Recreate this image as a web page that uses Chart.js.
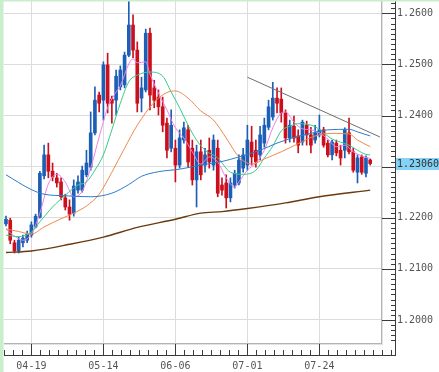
<!DOCTYPE html>
<html><head><meta charset="utf-8">
<script src="https://cdn.jsdelivr.net/npm/chart.js@4.4.1/dist/chart.umd.min.js"></script>
<style>html,body{margin:0;padding:0;background:#fff;overflow:hidden}canvas{display:block}</style>
</head><body>
<canvas id="c" width="439" height="372"></canvas>
<script>
// ---- data (daily candles, index 0..86) ----
const opens  = [1.2188,1.2195,1.2151,1.2135,1.2151,1.2156,1.2166,1.2182,1.2201,1.2282,
                1.2323,1.2291,1.2278,1.2270,1.2239,1.2221,1.2209,1.2254,1.2254,1.2284,
                1.2299,1.2366,1.2440,1.2430,1.2499,1.2432,1.2430,1.2456,1.2460,1.2518,
                1.2577,1.2528,1.2434,1.2450,1.2561,1.2454,1.2436,1.2417,1.2385,1.2336,
                1.2336,1.2303,1.2352,1.2372,1.2336,1.2274,1.2329,1.2303,1.2332,1.2303,
                1.2336,1.2264,1.2268,1.2239,1.2264,1.2268,1.2297,1.2303,1.2348,1.2332,
                1.2323,1.2346,1.2377,1.2397,1.2434,1.2432,1.2405,1.2356,1.2379,1.2360,
                1.2348,1.2381,1.2362,1.2352,1.2362,1.2372,1.2346,1.2323,1.2346,1.2332,
                1.2332,1.2366,1.2329,1.2289,1.2319,1.2287,1.2313];
const highs  = [1.2203,1.2199,1.2156,1.2162,1.2166,1.2174,1.2192,1.2207,1.2291,1.2342,
                1.2346,1.2307,1.2287,1.2278,1.2246,1.2235,1.2274,1.2282,1.2301,1.2332,
                1.2407,1.2456,1.2446,1.2505,1.2522,1.2438,1.2489,1.2497,1.2524,1.2626,
                1.2597,1.2544,1.2475,1.2569,1.2571,1.2469,1.2450,1.2436,1.2395,1.2411,
                1.2352,1.2372,1.2387,1.2381,1.2352,1.2342,1.2352,1.2336,1.2356,1.2362,
                1.2352,1.2278,1.2284,1.2278,1.2293,1.2323,1.2336,1.2381,1.2379,1.2352,
                1.2379,1.2395,1.2430,1.2465,1.2454,1.2454,1.2411,1.2391,1.2399,1.2372,
                1.2391,1.2389,1.2377,1.2381,1.2401,1.2377,1.2352,1.2352,1.2352,1.2342,
                1.2376,1.2395,1.2336,1.2323,1.2323,1.2321,1.2315];
const lows   = [1.2184,1.2149,1.2131,1.2131,1.2143,1.2151,1.2162,1.2180,1.2199,1.2276,
                1.2278,1.2272,1.2260,1.2235,1.2215,1.2195,1.2203,1.2248,1.2250,1.2280,
                1.2293,1.2362,1.2407,1.2391,1.2405,1.2385,1.2401,1.2450,1.2454,1.2515,
                1.2513,1.2407,1.2407,1.2446,1.2411,1.2415,1.2401,1.2368,1.2317,1.2329,
                1.2270,1.2297,1.2346,1.2299,1.2264,1.2221,1.2274,1.2289,1.2297,1.2293,
                1.2241,1.2244,1.2219,1.2231,1.2258,1.2264,1.2289,1.2293,1.2303,1.2299,
                1.2313,1.2338,1.2372,1.2391,1.2405,1.2387,1.2346,1.2348,1.2348,1.2327,
                1.2342,1.2342,1.2327,1.2346,1.2358,1.2338,1.2319,1.2313,1.2321,1.2303,
                1.2317,1.2325,1.2289,1.2268,1.2285,1.2280,1.2303];
const closes = [1.2197,1.2156,1.2135,1.2156,1.2160,1.2168,1.2186,1.2203,1.2287,1.2323,
                1.2291,1.2280,1.2268,1.2241,1.2221,1.2207,1.2262,1.2270,1.2293,1.2307,
                1.2366,1.2430,1.2424,1.2499,1.2424,1.2424,1.2477,1.2489,1.2518,1.2577,
                1.2528,1.2424,1.2454,1.2561,1.2440,1.2430,1.2417,1.2381,1.2332,1.2381,
                1.2303,1.2356,1.2376,1.2309,1.2274,1.2329,1.2284,1.2323,1.2309,1.2352,
                1.2248,1.2254,1.2239,1.2268,1.2287,1.2313,1.2323,1.2352,1.2319,1.2309,
                1.2362,1.2381,1.2417,1.2434,1.2424,1.2405,1.2356,1.2381,1.2356,1.2342,
                1.2387,1.2362,1.2342,1.2366,1.2372,1.2342,1.2323,1.2348,1.2327,1.2317,
                1.2372,1.2329,1.2293,1.2317,1.2289,1.2317,1.2306];

// moving averages as [candle index, value]
const ma5 = [[0,1.2178],[2,1.2164],[4,1.2156],[6,1.2168],[8,1.2209],[10,1.2266],[12,1.2285],
  [14,1.2270],[16,1.2241],[18,1.2252],[20,1.2297],[22,1.2358],[24,1.2415],[26,1.2446],[27,1.2458],
  [29,1.2501],[30,1.2511],[31,1.2503],[33,1.2505],[34,1.2481],[36,1.2444],[38,1.2411],[40,1.2376],
  [42,1.2356],[44,1.2329],[46,1.2305],[48,1.2319],[50,1.2309],[52,1.2278],[54,1.2260],[55,1.2270],
  [57,1.2293],[59,1.2307],[61,1.2332],[63,1.2376],[65,1.2405],[66,1.2407],[68,1.2387],[70,1.2374],
  [72,1.2372],[74,1.2366],[76,1.2354],[78,1.2339],[80,1.2342],[82,1.2329],[84,1.2321],[86,1.2316]];
const ma10 = [[0,1.2166],[3,1.2163],[6,1.2172],[8,1.2192],[11,1.2221],[14,1.2244],[17,1.2264],
  [19,1.2270],[21,1.2293],[23,1.2323],[25,1.2372],[27,1.2424],[29,1.2466],[31,1.2479],[34,1.2485],
  [37,1.2477],[39,1.2446],[41,1.2415],[43,1.2381],[45,1.2352],[47,1.2332],[50,1.2317],[53,1.2289],
  [56,1.2285],[59,1.2293],[61,1.2317],[63,1.2340],[65,1.2370],[67,1.2379],[69,1.2384],[71,1.2383],
  [73,1.2378],[75,1.2366],[77,1.2354],[79,1.2348],[81,1.2342],[83,1.2332],[85,1.2324],[86,1.2323]];
const ma25 = [[0,1.2178],[3,1.2173],[6,1.2168],[9,1.2182],[13,1.2198],[16,1.2209],[19,1.2223],
  [22,1.2246],[25,1.2289],[28,1.2336],[31,1.2381],[35,1.2426],[38,1.2445],[40,1.2448],[43,1.2434],
  [46,1.2409],[49,1.2391],[52,1.2356],[55,1.2319],[58,1.2305],[61,1.2315],[65,1.2329],[69,1.2345],
  [73,1.2360],[77,1.2365],[81,1.2364],[83,1.2352],[86,1.2339]];
const ma75 = [[0,1.2284],[6,1.2255],[9,1.2246],[14,1.2243],[20,1.2241],[25,1.2248],[29,1.2265],
  [32,1.2281],[36,1.2290],[41,1.2295],[46,1.2303],[51,1.2310],[55,1.2319],[60,1.2332],[64,1.2346],
  [68,1.2357],[72,1.2365],[76,1.2372],[81,1.2373],[83,1.2368],[86,1.2360]];
const ma200 = [[0,1.2132],[6,1.2135],[15,1.2148],[23,1.2162],[31,1.2181],[40,1.2197],[46,1.2209],
  [51,1.2212],[57,1.2218],[66,1.2229],[74,1.2241],[86,1.2254]];
const trendLine = [[57,1.2475],[88.3,1.2358]];

// axis labels
const dateLabels = ['04-19','05-14','06-06','07-01','07-24'];
const dateIndex  = [6,23,40,57,74];
const priceTicks = [1.20,1.21,1.22,1.23,1.24,1.25,1.26];

// ---- styles ----
const UP = '#1d5fb6', DOWN = '#cc0f1c';
const FONT = '"DejaVu Sans Mono", monospace';
const candleColors = closes.map((c, i) => c >= opens[i] ? UP : DOWN);
const pts = arr => arr.map(p => ({x: p[0], y: p[1]}));
const maLine = (data, color, w) => ({type: 'line', data: pts(data), borderColor: color,
  borderWidth: w || 1, pointRadius: 0, tension: 0.35, cubicInterpolationMode: 'monotone',
  fill: false, order: 0});

function seg(ctx, x1, y1, x2, y2) { ctx.beginPath(); ctx.moveTo(x1, y1); ctx.lineTo(x2, y2); ctx.stroke(); }

const frame = {
  id: 'frame',
  beforeDraw(chart) {
    const {ctx, width, height} = chart;
    ctx.save();
    ctx.fillStyle = '#fff'; ctx.fillRect(0, 0, width, height);
    ctx.fillStyle = '#c8eecb';
    ctx.fillRect(0, 0, 3.5, height);
    ctx.restore();
  },
  afterDraw(chart) {
    const {ctx, width, chartArea: a, scales: {x, y}} = chart;
    const axX = Math.round(a.right) + 14, axY = Math.round(a.bottom) + 12;
    ctx.save();
    ctx.lineWidth = 1;
    // plot frame with soft shadow
    ctx.strokeStyle = '#e2e2e2';
    seg(ctx, a.right + 1.5, 1, a.right + 1.5, a.bottom + 2);
    seg(ctx, a.left, a.bottom + 1.5, a.right + 2, a.bottom + 1.5);
    ctx.strokeStyle = '#b4b4b4';
    seg(ctx, a.right + 0.5, 1, a.right + 0.5, a.bottom + 1);
    seg(ctx, a.left, a.bottom + 0.5, a.right + 1, a.bottom + 0.5);
    // outer axes
    ctx.strokeStyle = '#3a3a3a';
    seg(ctx, axX + 0.5, 1, axX + 0.5, axY + 1);
    seg(ctx, a.left, axY + 0.5, axX + 1, axY + 0.5);
    // price ticks
    priceTicks.forEach(v => {
      const py = Math.round(y.getPixelForValue(v)) + 0.5;
      seg(ctx, a.right + 1, py, axX, py);
    });
    for (let k = Math.ceil(y.min * 1000); k <= Math.floor(y.max * 1000); k++) {
      const py = Math.round(y.getPixelForValue(k / 1000)) + 0.5;
      seg(ctx, axX - 4, py, axX, py);
    }
    // date ticks
    dateIndex.forEach(v => {
      const px = Math.round(x.getPixelForValue(v)) + 0.5;
      seg(ctx, px, a.bottom + 1, px, axY);
    });
    const step = (dateIndex[1] - dateIndex[0]) / 8;
    for (let v = dateIndex[0]; x.getPixelForValue(v) >= a.left - 0.5; v -= step) {
      const px = Math.round(x.getPixelForValue(v)) + 0.5;
      seg(ctx, px, axY - 5, px, axY);
    }
    for (let v = dateIndex[0]; x.getPixelForValue(v) <= axX - 2; v += step) {
      const px = Math.round(x.getPixelForValue(v)) + 0.5;
      seg(ctx, px, axY - 5, px, axY);
    }
    // last price marker
    const last = closes[closes.length - 1];
    const py = y.getPixelForValue(last);
    ctx.fillStyle = '#84d2f6';
    ctx.fillRect(axX + 1, Math.round(py - 5.5), width - axX - 1, 12);
    ctx.fillStyle = '#333';
    ctx.font = '10px ' + FONT;
    ctx.textBaseline = 'middle';
    ctx.textAlign = 'left';
    ctx.fillText(last.toFixed(5), axX + 2, Math.round(py) + 0.5);
    // top green rule
    ctx.fillStyle = '#c8eecb';
    ctx.fillRect(0, 0, width, 1.5);
    ctx.restore();
  }
};

new Chart(document.getElementById('c'), {
  type: 'bar',
  data: {
    datasets: [
      maLine(ma200, '#6a3a0e', 1.4),
      maLine(ma75, '#2a7dcc'),
      maLine(ma25, '#ee8a4c'),
      maLine(ma10, '#34cc8c'),
      maLine(ma5, '#ee80ee'),
      {type: 'line', data: pts(trendLine), borderColor: '#6e6e6e', borderWidth: 1,
       pointRadius: 0, tension: 0, fill: false, order: 0},
      {label: 'body', data: closes.map((c, i) => ({x: i, y: [opens[i], c]})),
       backgroundColor: candleColors, borderWidth: 0, barThickness: 3, minBarLength: 1,
       grouped: false, order: 1},
      {label: 'wick', data: highs.map((h, i) => ({x: i, y: [lows[i], h]})),
       backgroundColor: candleColors, borderWidth: 0, barThickness: 1,
       grouped: false, order: 2}
    ]
  },
  plugins: [frame],
  options: {
    responsive: false,
    animation: false,
    devicePixelRatio: 1,
    layout: {padding: {left: 4, top: 0, right: 0, bottom: 0}, autoPadding: false},
    plugins: {legend: {display: false}, tooltip: {enabled: false}},
    scales: {
      x: {
        type: 'linear', min: -0.47, max: 88.55, offset: false,
        afterBuildTicks: s => { s.ticks = dateIndex.map(v => ({value: v})); },
        afterFit: s => { s.height = 29; s.paddingLeft = 0; s.paddingRight = 0; },
        grid: {color: '#dcdcdc', lineWidth: 1, drawTicks: false, offset: false},
        border: {display: false},
        ticks: {autoSkip: false, maxRotation: 0, padding: 17, color: '#555',
                font: {family: FONT, size: 10},
                callback: (v, i) => dateLabels[i]}
      },
      y: {
        position: 'right', min: 1.19549, max: 1.26260,
        afterBuildTicks: s => { s.ticks = priceTicks.map(v => ({value: v})); },
        afterFit: s => { s.width = 58; s.paddingTop = 0; s.paddingBottom = 0; },
        grid: {color: '#dcdcdc', lineWidth: 1, drawTicks: false},
        border: {display: false},
        ticks: {padding: 16, color: '#555', font: {family: FONT, size: 10},
                callback: v => Number(v).toFixed(4)}
      }
    }
  }
});
</script>
</body></html>
